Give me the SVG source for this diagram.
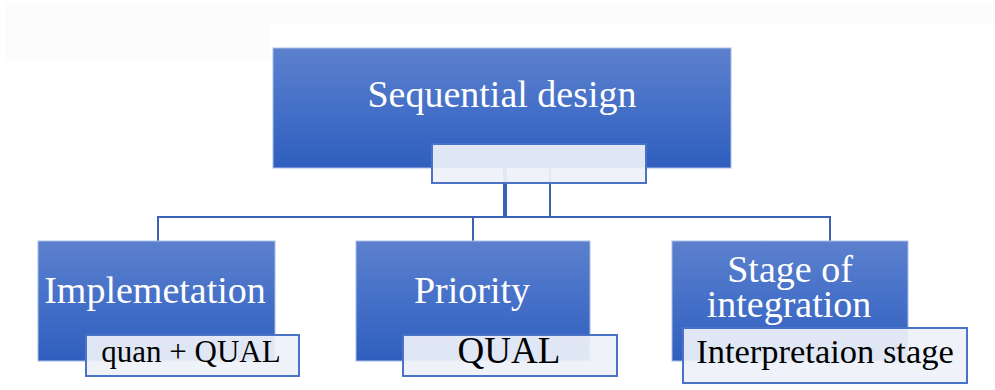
<svg xmlns="http://www.w3.org/2000/svg" width="995" height="390" viewBox="0 0 995 390">
<defs>
<linearGradient id="g" x1="0" y1="0" x2="0" y2="1">
<stop offset="0" stop-color="#5c80cd"/>
<stop offset="0.5" stop-color="#4570c8"/>
<stop offset="1" stop-color="#2f5ebe"/>
</linearGradient>
<style>
.box{fill:url(#g);stroke:#a8bde6;stroke-width:1}
.sub{fill:#eef1f8;fill-opacity:0.93;stroke:#4a72c6;stroke-width:2}
.wt{font-family:"Liberation Serif","Times New Roman",serif;fill:#ffffff;font-size:38px;text-anchor:middle}
.bt{font-family:"Liberation Serif","Times New Roman",serif;fill:#000000;text-anchor:middle}
.ln{fill:none;stroke:#3b62b3;stroke-width:2}
</style>
</defs>
<rect width="995" height="390" fill="#ffffff"/>
<rect x="5" y="3" width="990" height="22" fill="#fcfcfc"/>
<rect x="5" y="25" width="265" height="35" fill="#fcfcfc"/>
<g id="connectors">
<path class="ln" d="M158 241 V217 H830 V241"/>
<path class="ln" d="M473 217 V241"/>
<path class="ln" d="M505 168 V217" style="stroke-width:4"/>
<path class="ln" d="M550 168 V217"/>
</g>
<g id="sequential">
<rect class="box" x="273" y="48" width="458" height="120"/>
<text class="wt" x="502" y="107">Sequential design</text>
<rect class="sub" x="432" y="144" width="214" height="39"/>
</g>
<g id="implementation">
<rect class="box" x="38" y="241" width="237" height="120"/>
<text class="wt" x="155" y="303">Implemetation</text>
<rect class="sub" x="86" y="335" width="213" height="41"/>
<text class="bt" x="191" y="362" font-size="31">quan + QUAL</text>
</g>
<g id="priority">
<rect class="box" x="356" y="241" width="234" height="120"/>
<text class="wt" x="472" y="303">Priority</text>
<rect class="sub" x="403" y="335" width="214" height="41"/>
<text class="bt" x="509" y="363" font-size="37">QUAL</text>
</g>
<g id="stage">
<rect class="box" x="672" y="241" width="236" height="120"/>
<text class="wt" x="790" y="282" font-size="37">Stage of</text>
<text class="wt" x="789" y="317" font-size="37">integration</text>
<rect class="sub" x="683" y="328" width="284" height="55"/>
<text class="bt" x="825" y="363" font-size="34.5">Interpretaion stage</text>
</g>
</svg>
